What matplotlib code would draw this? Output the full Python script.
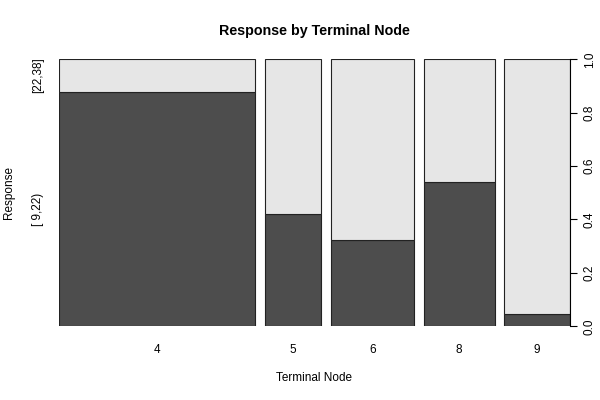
import numpy as np
import matplotlib
matplotlib.use("Agg")
import matplotlib.pyplot as plt

plt.rcParams['font.family'] = ['Liberation Sans', 'DejaVu Sans']

# counts per terminal node, split by response class
nodes = ["4", "5", "6", "8", "9"]
low_counts = [58, 8, 9, 13, 1]     # [ 9,22)
high_counts = [8, 11, 19, 11, 21]  # [22,38]
levels = ["[ 9,22)", "[22,38]"]
dark = "#4D4D4D"
light = "#E6E6E6"

low = np.array(low_counts, dtype=float)
high = np.array(high_counts, dtype=float)
tot = low + high
widths = tot / tot.sum()
gap = 0.02
lefts = np.concatenate([[0], np.cumsum(widths + gap)[:-1]])
frac_low = low / tot

fig = plt.figure(figsize=(6, 4), dpi=100)
ax = fig.add_axes([59.3 / 600, 1 - 326.3 / 400, 510.4 / 600, 267 / 400])

ax.bar(lefts, frac_low, width=widths, align='edge', color=dark,
       edgecolor='#222222', linewidth=0.8)
ax.bar(lefts, 1 - frac_low, bottom=frac_low, width=widths, align='edge',
       color=light, edgecolor='#222222', linewidth=0.8)

ax.set_xlim(0, 1 + gap * (len(nodes) - 1))
ax.set_ylim(0, 1)
for s in ['top', 'left', 'bottom']:
    ax.spines[s].set_visible(False)
ax.spines['right'].set_linewidth(0.8)

ax.set_xticks(lefts + widths / 2)
ax.set_xticklabels(nodes, fontsize=8.5)
ax.tick_params(axis='x', length=0, pad=13)

ax.yaxis.tick_right()
ax.set_yticks([0, 0.2, 0.4, 0.6, 0.8, 1.0])
ax.set_yticklabels(["0.0", "0.2", "0.4", "0.6", "0.8", "1.0"], fontsize=8.5,
                   rotation=90, va='center')
ax.tick_params(axis='y', length=5, width=0.8, pad=5)

# left axis labels at the middle of the first column's segments
yat = [frac_low[0] / 2, (frac_low[0] + 1) / 2]
trans = matplotlib.transforms.blended_transform_factory(ax.transAxes, ax.transData)
for y, lab in zip(yat, levels):
    ax.text(-21 / 510.4, y, lab, transform=trans, rotation=90,
            ha='center', va='center', fontsize=8.5)

fig.text(9 / 600, 1 - 193 / 400, "Response", rotation=90, ha='center',
         va='center', fontsize=8.5)
fig.text(314.5 / 600, 1 - 378 / 400, "Terminal Node", ha='center',
         va='center', fontsize=8.5)
fig.text(314.5 / 600, 1 - 31 / 400, "Response by Terminal Node",
         ha='center', va='center', fontsize=10.3, fontweight='bold')

fig.savefig("out.png", dpi=100)
